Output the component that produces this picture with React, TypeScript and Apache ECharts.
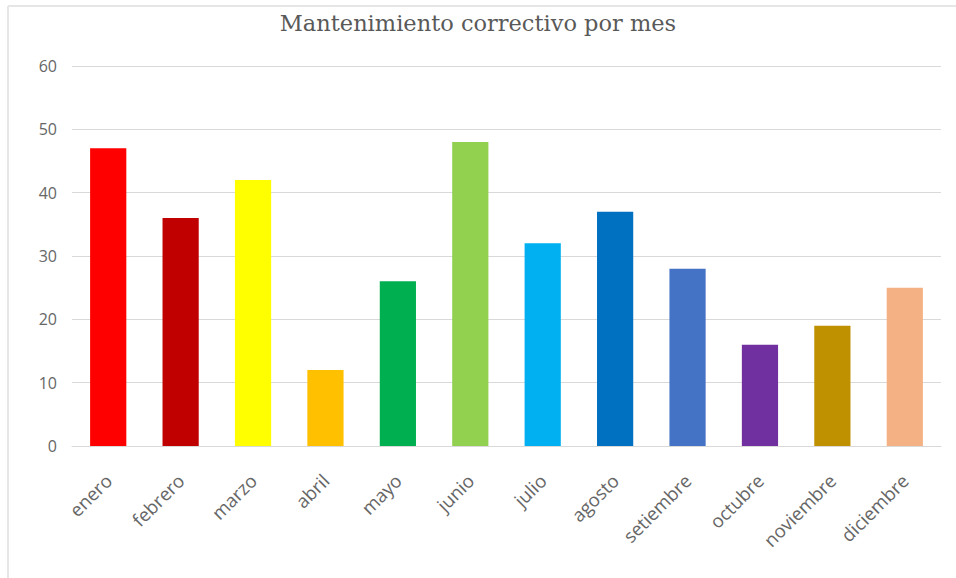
import React, { useEffect, useRef } from "react";
import * as echarts from "echarts";

const months = ["enero", "febrero", "marzo", "abril", "mayo", "junio", "julio", "agosto", "setiembre", "octubre", "noviembre", "diciembre"];
const values = [47, 36, 42, 12, 26, 48, 32, 37, 28, 16, 19, 25];
const colors = ["#FF0000", "#C00000", "#FFFF00", "#FFC000", "#00B050", "#92D050", "#00B0F0", "#0070C0", "#4472C4", "#7030A0", "#BF9000", "#F4B183"];
const titleText = "Mantenimiento correctivo por mes";

export default function App() {
  const ref = useRef<HTMLDivElement>(null);
  useEffect(() => {
    if (!ref.current) return;
    const chart = echarts.init(ref.current, null, { renderer: "svg" });
    chart.setOption({
      animation: false,
      backgroundColor: "#ffffff",
      title: {
        text: titleText,
        left: "center",
        top: 6,
        textStyle: { fontFamily: "DejaVu Serif", fontSize: 22.5, fontWeight: "normal", color: "#595959" },
      },
      graphic: [
        { type: "line", shape: { x1: 8, y1: 6, x2: 956, y2: 6 }, style: { stroke: "#e6e6e6", lineWidth: 2 } },
        { type: "line", shape: { x1: 8, y1: 6, x2: 8, y2: 578 }, style: { stroke: "#e6e6e6", lineWidth: 2 } },
      ],
      grid: { left: 72, right: 15, top: 66, bottom: 132, containLabel: false },
      xAxis: {
        type: "category",
        data: months,
        axisLine: { show: true, lineStyle: { color: "#d9d9d9", width: 1 } },
        axisTick: { show: false },
        axisLabel: { rotate: 45, margin: 31, color: "#666666", fontFamily: "Open Sans", fontSize: 18.5 },
      },
      yAxis: {
        type: "value",
        min: 0,
        max: 60,
        interval: 10,
        axisLine: { show: false },
        axisTick: { show: false },
        splitLine: { lineStyle: { color: "#d9d9d9", width: 1 } },
        axisLabel: { margin: 15, color: "#666666", fontFamily: "Open Sans", fontSize: 16 },
      },
      series: [
        {
          type: "bar",
          barWidth: "50%",
          data: values.map((v, i) => ({ value: v, itemStyle: { color: colors[i] } })),
        },
      ],
    });
    return () => chart.dispose();
  }, []);
  return <div ref={ref} style={{ position: "fixed", left: 0, top: 0, width: 956, height: 578 }} />;
}
